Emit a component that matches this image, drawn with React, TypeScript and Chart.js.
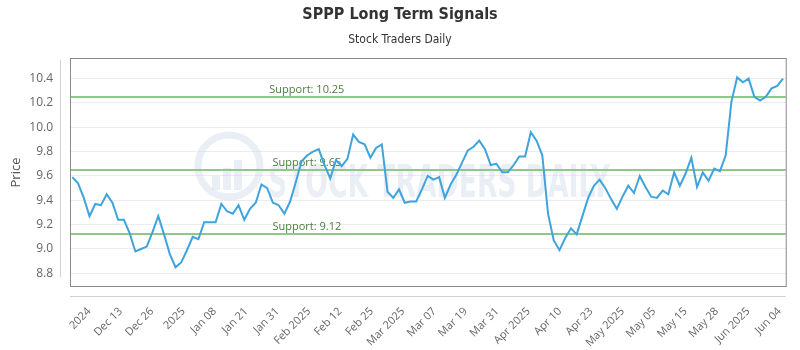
import React, { useEffect, useRef } from 'react';
import { Chart, registerables } from 'chart.js';

Chart.register(...registerables);

const TITLE = 'SPPP Long Term Signals';
const SUBTITLE = 'Stock Traders Daily';
const Y_TITLE = 'Price';
const WATERMARK = 'STOCK TRADERS DAILY';

const prices = [
  9.59, 9.54, 9.42, 9.27, 9.37, 9.36, 9.45, 9.38, 9.24, 9.24,
  9.13, 8.98, 9.0, 9.02, 9.14, 9.27, 9.12, 8.96, 8.85, 8.89,
  8.99, 9.1, 9.08, 9.22, 9.22, 9.22, 9.37, 9.31, 9.29, 9.36,
  9.24, 9.33, 9.38, 9.53, 9.5, 9.38, 9.36, 9.29, 9.39, 9.55,
  9.72, 9.77, 9.8, 9.82, 9.69, 9.58, 9.73, 9.68, 9.74, 9.94,
  9.88, 9.86, 9.75, 9.83, 9.86, 9.47, 9.42, 9.49, 9.38, 9.39,
  9.39, 9.49, 9.6, 9.57, 9.59, 9.42, 9.53, 9.61, 9.71, 9.81,
  9.84, 9.89, 9.82, 9.69, 9.7, 9.63, 9.63, 9.69, 9.76, 9.76,
  9.96, 9.89, 9.77, 9.29, 9.07, 8.99, 9.09, 9.17, 9.12, 9.27,
  9.42, 9.52, 9.57, 9.5, 9.41, 9.33, 9.43, 9.52, 9.46, 9.6,
  9.51, 9.43, 9.42, 9.48, 9.45, 9.63, 9.52, 9.62, 9.75, 9.51,
  9.63, 9.56, 9.66, 9.64, 9.77, 10.21, 10.41, 10.37, 10.4, 10.25,
  10.22, 10.25, 10.32, 10.34, 10.4,
];

const xTickLabels = [
  '2024', 'Dec 13', 'Dec 26', '2025', 'Jan 08', 'Jan 21', 'Jan 31',
  'Feb 2025', 'Feb 12', 'Feb 25', 'Mar 2025', 'Mar 07', 'Mar 19',
  'Mar 31', 'Apr 2025', 'Apr 10', 'Apr 23', 'May 2025', 'May 05',
  'May 15', 'May 28', 'Jun 2025', 'Jun 04',
];
const firstTickIndex = 2.95;
const lastTickIndex = 123.4;

const yTickValues = [8.8, 9.0, 9.2, 9.4, 9.6, 9.8, 10.0, 10.2, 10.4];
const yMin = 8.696;
const yMax = 10.561;

const supportLevels = [10.25, 9.65, 9.12];
const supportLabels = ['Support: 10.25', 'Support: 9.65', 'Support: 9.12'];

const LINE_COLOR = '#3fa3dc';
const SUPPORT_COLOR = '#8ccb86';
const SUPPORT_TEXT = '#4b7d3c';

const tickStep = (lastTickIndex - firstTickIndex) / (xTickLabels.length - 1);
const xTickPositions = xTickLabels.map((_, i) => firstTickIndex + i * tickStep);

const decorPlugin = {
  id: 'decor',
  beforeDatasetsDraw(chart: any) {
    const { ctx, chartArea, scales } = chart;
    const { left, right, top, bottom } = chartArea;
    ctx.save();
    // watermark
    ctx.strokeStyle = 'rgba(200,214,228,0.38)';
    ctx.fillStyle = 'rgba(200,214,228,0.38)';
    ctx.lineWidth = 7;
    ctx.beginPath();
    ctx.arc(229, 166, 31, 0, Math.PI * 2);
    ctx.stroke();
    const bars = [[212, 176, 8, 14], [223, 168, 8, 22], [234, 160, 8, 30]];
    bars.forEach(([bx, by, bw, bh]) => ctx.fillRect(bx, by, bw, bh));
    ctx.font = 'bold 45px "DejaVu Sans Condensed", "DejaVu Sans", sans-serif';
    ctx.textAlign = 'left';
    ctx.textBaseline = 'alphabetic';
    ctx.fillText(WATERMARK, 268, 197, 342);

    // support lines
    const ys = scales.y;
    ctx.lineWidth = 2;
    ctx.strokeStyle = SUPPORT_COLOR;
    supportLevels.forEach((lvl) => {
      const py = Math.round(ys.getPixelForValue(lvl));
      ctx.beginPath();
      ctx.moveTo(left, py);
      ctx.lineTo(right, py);
      ctx.stroke();
    });
    ctx.fillStyle = SUPPORT_TEXT;
    ctx.font = '11px "Open Sans", sans-serif';
    ctx.textAlign = 'center';
    ctx.textBaseline = 'alphabetic';
    supportLevels.forEach((lvl, i) => {
      const py = ys.getPixelForValue(lvl);
      ctx.fillText(supportLabels[i], left + (right - left) * 0.33, py - 4);
    });

    // plot frame
    ctx.strokeStyle = '#8a8a8a';
    ctx.lineWidth = 1;
    ctx.strokeRect(left - 0.5, top - 0.5, right - left + 1, bottom - top + 1);
    // outer axis lines
    ctx.strokeStyle = '#d0d0d0';
    ctx.beginPath();
    ctx.moveTo(left - 10.5, top + 1);
    ctx.lineTo(left - 10.5, bottom - 9);
    ctx.moveTo(left - 1, bottom + 10.5);
    ctx.lineTo(right, bottom + 10.5);
    ctx.stroke();
    ctx.restore();
  },
  afterDraw(chart: any) {
    const { ctx, chartArea } = chart;
    ctx.save();
    ctx.textAlign = 'center';
    ctx.textBaseline = 'middle';
    ctx.fillStyle = '#333333';
    ctx.font = 'bold 16px "Liberation Sans Narrow", "DejaVu Sans Condensed", sans-serif';
    ctx.fillText(TITLE, 400, 15);
    ctx.font = '12px "Liberation Sans Narrow", "DejaVu Sans Condensed", sans-serif';
    ctx.fillText(SUBTITLE, 400, 40);
    ctx.translate(16, (chartArea.top + chartArea.bottom) / 2);
    ctx.rotate(-Math.PI / 2);
    ctx.fillStyle = '#555555';
    ctx.font = '13px "Open Sans", sans-serif';
    ctx.fillText(Y_TITLE, 0, 0);
    ctx.restore();
  },
};

export default function App() {
  const ref = useRef<HTMLCanvasElement | null>(null);
  useEffect(() => {
    document.body.style.margin = '0';
    const canvas = ref.current;
    if (!canvas) return;
    const chart = new Chart(canvas, {
      type: 'line',
      data: {
        datasets: [
          {
            data: prices.map((y, i) => ({ x: i, y })),
            borderColor: LINE_COLOR,
            borderWidth: 2,
            pointRadius: 0,
            tension: 0,
            fill: false,
          },
        ],
      },
      options: {
        responsive: false,
        animation: false,
        events: [],
        layout: { padding: { top: 59, right: 10, left: 0, bottom: 0 } },
        plugins: {
          legend: { display: false },
          title: { display: false },
          tooltip: { enabled: false },
        },
        scales: {
          x: {
            type: 'linear',
            min: -0.23,
            max: 124.47,
            grid: { display: false },
            border: { display: false },
            afterBuildTicks: (s: any) => {
              s.ticks = xTickPositions.map((v) => ({ value: v }));
            },
            afterFit: (s: any) => {
              s.height = 64;
            },
            ticks: {
              autoSkip: false,
              maxRotation: 45,
              minRotation: 45,
              padding: 11,
              color: '#666666',
              font: { family: '"Open Sans", sans-serif', size: 11 },
              callback: (_v: any, i: number) => xTickLabels[i],
            },
          },
          y: {
            type: 'linear',
            min: yMin,
            max: yMax,
            afterBuildTicks: (s: any) => {
              s.ticks = yTickValues.map((v) => ({ value: v }));
            },
            afterFit: (s: any) => {
              s.width = 71;
            },
            grid: { color: '#ececec', drawTicks: false },
            border: { display: false },
            ticks: {
              padding: 18,
              color: '#666666',
              font: { family: '"Open Sans", sans-serif', size: 12 },
              callback: (v: any) => Number(v).toFixed(1),
            },
          },
        },
      },
      plugins: [decorPlugin],
    });
    return () => chart.destroy();
  }, []);
  return (
    <div style={{ width: 800, height: 350 }}>
      <canvas ref={ref} width={800} height={350} style={{ display: 'block' }} />
    </div>
  );
}
